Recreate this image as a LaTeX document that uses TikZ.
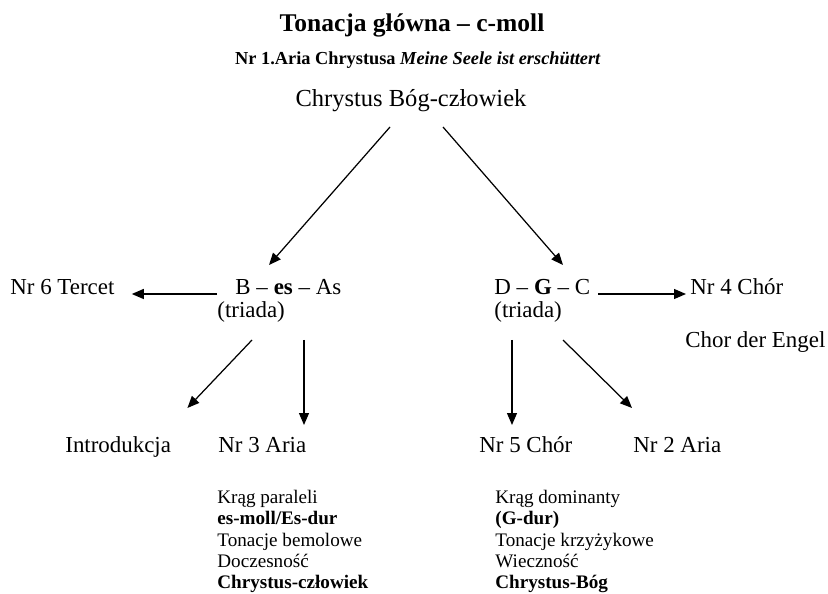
\documentclass[tikz,border=0pt]{standalone}
\usepackage{fontspec}
\setmainfont{Liberation Serif}
\usetikzlibrary{arrows.meta,calc}

\begin{document}
\begin{tikzpicture}[x=0.5bp,y=-0.5bp,inner sep=0pt,
  txt/.style={font=\fontsize{11.5}{13}\selectfont},
  lst/.style={font=\fontsize{9.6}{10.65}\selectfont,align=left,anchor=north west},
  arr/.style={line width=0.62pt,-{Triangle[length=6pt,width=5pt]}}]
\useasboundingbox(0,0)rectangle(828,594);
% naglowek
\node[anchor=base,font=\fontsize{12.8}{15}\selectfont\bfseries](title)at(412,32){Tonacja główna – c-moll};
\node[anchor=base,font=\fontsize{9.2}{11}\selectfont\bfseries](aria1)at(418,65){Nr 1.Aria Chrystusa \textit{Meine Seele ist erschüttert}};
\node[anchor=base,font=\fontsize{12.3}{15}\selectfont](chr)at(411,107){Chrystus Bóg-człowiek};
% triady
\node[txt,anchor=base west](tercet)at(10,295){Nr 6 Tercet};
\node[txt,anchor=base west](bes)at(235,295){B – \textbf{es} – As};
\node[txt,anchor=base west](btri)at(217,318){(triada)};
\node[txt,anchor=base west](dgc)at(494,295){D – \textbf{G} – C};
\node[txt,anchor=base west](gtri)at(494,318){(triada)};
\node[txt,anchor=base west](chor4)at(690,295){Nr 4 Chór};
\node[txt,anchor=base west](engel)at(685,347){Chor der Engel};
% dol
\node[txt,anchor=base west](intro)at(65,452){Introdukcja};
\node[txt,anchor=base west](aria3)at(218,452){Nr 3 Aria};
\node[txt,anchor=base west](chor5)at(479,452){Nr 5 Chór};
\node[txt,anchor=base west](aria2)at(633,452){Nr 2 Aria};
\node[lst](bem)at(217,490){Krąg paraleli\\\textbf{es-moll/Es-dur}\\Tonacje bemolowe\\Doczesność\\\textbf{Chrystus-człowiek}};
\node[lst](krz)at(495,490){Krąg dominanty\\\textbf{(G-dur)}\\Tonacje krzyżykowe\\Wieczność\\\textbf{Chrystus-Bóg}};
% strzalki
\draw[arr]($(chr.base)+(-21,20)$)--($(bes.base west)+(34,-30)$);
\draw[arr]($(chr.base)+(32,20)$)--($(dgc.base west)+(69,-30)$);
\draw[arr]($(bes.base west)+(-18,-1)$)--($(tercet.base east)+(17,-1)$);
\draw[arr]($(dgc.base east)+(8,-1)$)--($(chor4.base west)+(-4,-1)$);
\draw[arr]($(btri.base west)+(35,22)$)--($(intro.base east)+(16,-44)$);
\draw[arr]($(btri.base west)+(87,22)$)--($(aria3.base west)+(86,-27)$);
\draw[arr]($(gtri.base west)+(18,22)$)--($(chor5.base west)+(33,-27)$);
\draw[arr]($(gtri.base west)+(69,22)$)--($(aria2.base west)+(-1,-44)$);
\end{tikzpicture}
\end{document}
